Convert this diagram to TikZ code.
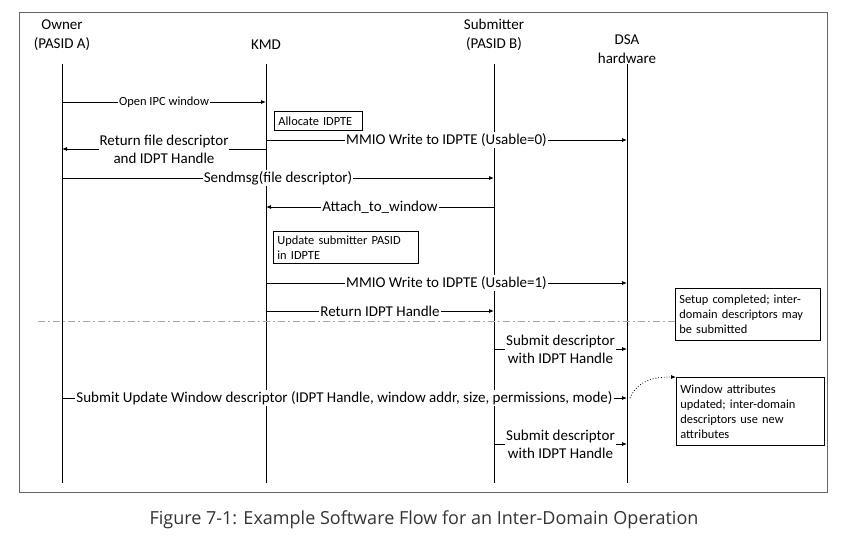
\documentclass[tikz,border=0pt]{standalone}
\usepackage{fontspec}
\setmainfont{Carlito}
\newfontfamily\capfont{Open Sans}
\usetikzlibrary{positioning,arrows.meta}

\begin{document}
\begin{tikzpicture}[x=1pt,y=-1pt,
  msg/.style={-{Latex[length=5pt,width=4pt]},line width=0.8pt},
  lifeline/.style={line width=0.9pt},
  lbl/.style={fill=white,inner sep=1pt,align=center,font=\fontsize{15}{18}\selectfont},
  slbl/.style={fill=white,inner sep=1pt,font=\fontsize{12.5}{14}\selectfont},
  head/.style={align=center,font=\fontsize{15}{19}\selectfont},
  note/.style={draw,fill=white,anchor=north west,align=left,inner xsep=4pt,inner ysep=2pt,
    font=\fontsize{12.4}{15}\selectfont,line width=0.8pt},
  sepline/.style={black!35,line width=0.9pt,dash pattern=on 7pt off 3pt on 2pt off 3pt}]

\useasboundingbox (0,0) rectangle (851,538);
\draw[black!60,line width=0.9pt] (19,12) rectangle (827,492);

% actors
\node[head] (owner) at (62,35) {Owner\\(PASID A)};
\node[head] (kmdh) at (266,45) {KMD};
\node[head] (subh) at (494,35) {Submitter\\(PASID B)};
\node[head] (dsah) at (627,49) {DSA\\hardware};

% lifelines
\coordinate (own) at (62,64);
\coordinate (kmd) at (266,64);
\coordinate (sub) at (494,64);
\coordinate (dsa) at (627,64);
\draw[lifeline] (own) -- ++(0,419);
\draw[lifeline] (kmd) -- ++(0,419);
\draw[lifeline] (sub) -- ++(0,419);
\draw[lifeline] (dsa) -- ++(0,419);

% message rows
\coordinate (m1) at (0,102);
\coordinate (m2) at (0,140);
\coordinate (m3) at (0,149);
\coordinate (m4) at (0,178);
\coordinate (m5) at (0,207);
\coordinate (m6) at (0,283);
\coordinate (m7) at (0,311);
\coordinate (sep) at (38,321);
\coordinate (m8) at (0,349);
\coordinate (m9) at (0,398);
\coordinate (m10) at (0,444);

% setup phase
\draw[msg] (own |- m1) -- node[slbl]{Open IPC window} (kmd |- m1);
\node[note,text width=80pt,minimum height=19pt] (alloc) at (274,111) {Allocate IDPTE};
\draw[msg] (kmd |- m2) -- node[lbl]{MMIO Write to IDPTE (Usable=0)} (dsa |- m2);
\draw[msg] (kmd |- m3) -- node[lbl]{Return file descriptor\\and IDPT Handle} (own |- m3);
\draw[msg] (own |- m4) -- node[lbl]{Sendmsg(file descriptor)} (sub |- m4);
\draw[msg] (sub |- m5) -- node[lbl]{Attach\_to\_window} (kmd |- m5);
\node[note,text width=137pt,minimum height=32pt] (update) at (273,231) {Update submitter PASID\\in IDPTE};
\draw[msg] (kmd |- m6) -- node[lbl]{MMIO Write to IDPTE (Usable=1)} (dsa |- m6);
\draw[msg] (kmd |- m7) -- node[lbl]{Return IDPT Handle} (sub |- m7);

% usage phase
\node[note,text width=137pt,minimum height=52pt] (setup) at (675,288) {Setup completed; inter-\\domain descriptors may\\be submitted};
\draw[sepline] (sep) -- (sep -| setup.west);
\draw[msg] (sub |- m8) -- node[lbl]{Submit descriptor\\with IDPT Handle} (dsa |- m8);
\draw[msg] (own |- m9) -- node[lbl]{Submit Update Window descriptor (IDPT Handle, window addr, size, permissions, mode)} (dsa |- m9);
\node[note,text width=140pt,minimum height=68pt] (winattr) at (676,377) {Window attributes\\updated; inter-domain\\descriptors use new\\attributes};
\draw[msg,dotted] ([xshift=3pt]dsa |- m9) .. controls +(8,-18) and +(-22,0) .. (winattr.north west);
\draw[msg] (sub |- m10) -- node[lbl]{Submit descriptor\\with IDPT Handle} (dsa |- m10);

% caption
\node[font=\capfont\fontsize{18}{21}\selectfont,text=black!80] (cap) at (424,520)
  {Figure 7-1: Example Software Flow for an Inter-Domain Operation};
\end{tikzpicture}
\end{document}
